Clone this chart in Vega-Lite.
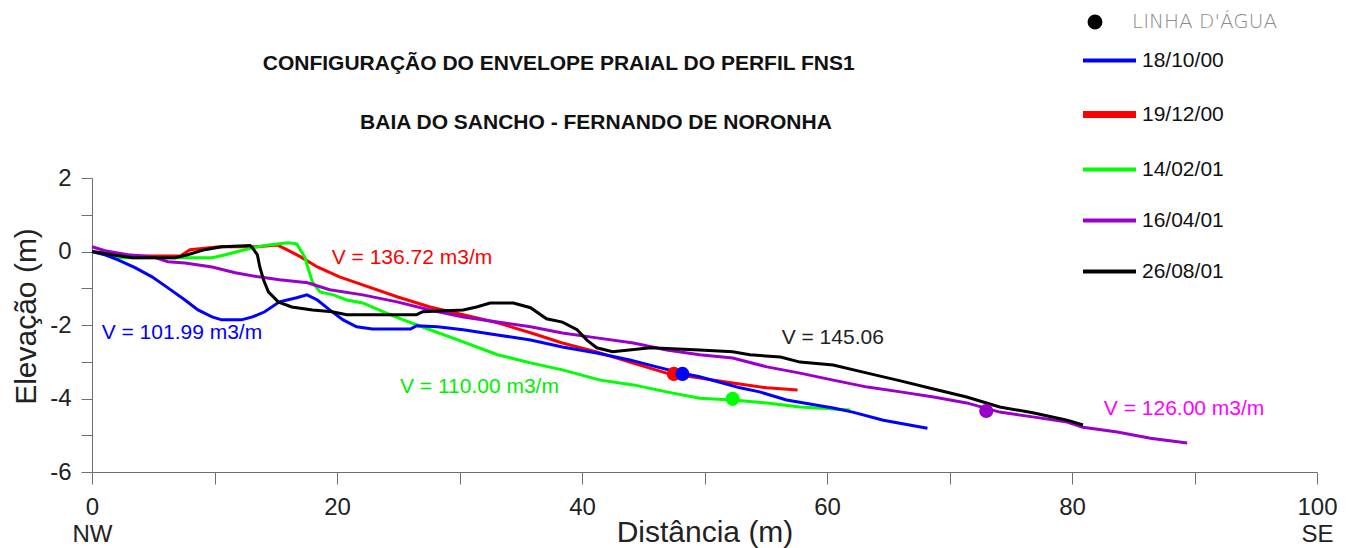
{
  "$schema": "https://vega.github.io/schema/vega-lite/v6.json",
  "width": 1225,
  "height": 294,
  "autosize": {"type": "none"},
  "padding": {"left": 92, "top": 178, "right": 29, "bottom": 76},
  "background": "white",
  "config": {"view": {"stroke": null}, "font": "Liberation Sans", "axis": {"grid": false}},
  "datasets": {
    "perfis": [
      {"serie": "19/12/00", "x": 0, "y": 0},
      {"serie": "19/12/00", "x": 2.1, "y": -0.09},
      {"serie": "19/12/00", "x": 4.1, "y": -0.12},
      {"serie": "19/12/00", "x": 7.2, "y": -0.12},
      {"serie": "19/12/00", "x": 8.0, "y": 0.05},
      {"serie": "19/12/00", "x": 10.4, "y": 0.13},
      {"serie": "19/12/00", "x": 13.5, "y": 0.13},
      {"serie": "19/12/00", "x": 15.1, "y": 0.18},
      {"serie": "19/12/00", "x": 15.9, "y": 0.05},
      {"serie": "19/12/00", "x": 17.0, "y": -0.14},
      {"serie": "19/12/00", "x": 18.4, "y": -0.42},
      {"serie": "19/12/00", "x": 20.2, "y": -0.69},
      {"serie": "19/12/00", "x": 22.1, "y": -0.91},
      {"serie": "19/12/00", "x": 24.9, "y": -1.23},
      {"serie": "19/12/00", "x": 27.6, "y": -1.51},
      {"serie": "19/12/00", "x": 30.3, "y": -1.72},
      {"serie": "19/12/00", "x": 33.1, "y": -1.94},
      {"serie": "19/12/00", "x": 35.8, "y": -2.21},
      {"serie": "19/12/00", "x": 38.4, "y": -2.49},
      {"serie": "19/12/00", "x": 41.2, "y": -2.73},
      {"serie": "19/12/00", "x": 43.9, "y": -3.01},
      {"serie": "19/12/00", "x": 46.9, "y": -3.31},
      {"serie": "19/12/00", "x": 49.6, "y": -3.44},
      {"serie": "19/12/00", "x": 52.3, "y": -3.58},
      {"serie": "19/12/00", "x": 55.1, "y": -3.71},
      {"serie": "19/12/00", "x": 57.6, "y": -3.77},

      {"serie": "14/02/01", "x": 0, "y": 0},
      {"serie": "14/02/01", "x": 1.1, "y": -0.09},
      {"serie": "14/02/01", "x": 2.3, "y": -0.17},
      {"serie": "14/02/01", "x": 9.8, "y": -0.17},
      {"serie": "14/02/01", "x": 10.9, "y": -0.09},
      {"serie": "14/02/01", "x": 11.9, "y": 0},
      {"serie": "14/02/01", "x": 13.1, "y": 0.1},
      {"serie": "14/02/01", "x": 14.4, "y": 0.18},
      {"serie": "14/02/01", "x": 16.0, "y": 0.24},
      {"serie": "14/02/01", "x": 16.7, "y": 0.21},
      {"serie": "14/02/01", "x": 17.0, "y": 0.05},
      {"serie": "14/02/01", "x": 17.4, "y": -0.17},
      {"serie": "14/02/01", "x": 17.6, "y": -0.42},
      {"serie": "14/02/01", "x": 18.0, "y": -0.83},
      {"serie": "14/02/01", "x": 18.6, "y": -1.1},
      {"serie": "14/02/01", "x": 19.7, "y": -1.18},
      {"serie": "14/02/01", "x": 20.8, "y": -1.32},
      {"serie": "14/02/01", "x": 22.1, "y": -1.4},
      {"serie": "14/02/01", "x": 23.8, "y": -1.64},
      {"serie": "14/02/01", "x": 25.4, "y": -1.86},
      {"serie": "14/02/01", "x": 27.6, "y": -2.13},
      {"serie": "14/02/01", "x": 30.3, "y": -2.46},
      {"serie": "14/02/01", "x": 33.1, "y": -2.81},
      {"serie": "14/02/01", "x": 35.8, "y": -3.03},
      {"serie": "14/02/01", "x": 38.4, "y": -3.22},
      {"serie": "14/02/01", "x": 41.5, "y": -3.5},
      {"serie": "14/02/01", "x": 44.2, "y": -3.63},
      {"serie": "14/02/01", "x": 46.9, "y": -3.82},
      {"serie": "14/02/01", "x": 49.6, "y": -3.99},
      {"serie": "14/02/01", "x": 52.3, "y": -4.04},
      {"serie": "14/02/01", "x": 55.1, "y": -4.12},
      {"serie": "14/02/01", "x": 57.8, "y": -4.23},
      {"serie": "14/02/01", "x": 61.9, "y": -4.31},

      {"serie": "18/10/00", "x": 0, "y": 0},
      {"serie": "18/10/00", "x": 1.06, "y": -0.09},
      {"serie": "18/10/00", "x": 2.12, "y": -0.23},
      {"serie": "18/10/00", "x": 3.51, "y": -0.44},
      {"serie": "18/10/00", "x": 4.9, "y": -0.69},
      {"serie": "18/10/00", "x": 6.2, "y": -0.99},
      {"serie": "18/10/00", "x": 7.59, "y": -1.32},
      {"serie": "18/10/00", "x": 8.65, "y": -1.59},
      {"serie": "18/10/00", "x": 9.8, "y": -1.78},
      {"serie": "18/10/00", "x": 10.6, "y": -1.86},
      {"serie": "18/10/00", "x": 12.2, "y": -1.86},
      {"serie": "18/10/00", "x": 13.1, "y": -1.78},
      {"serie": "18/10/00", "x": 14.1, "y": -1.64},
      {"serie": "18/10/00", "x": 15.3, "y": -1.37},
      {"serie": "18/10/00", "x": 16.7, "y": -1.26},
      {"serie": "18/10/00", "x": 17.55, "y": -1.18},
      {"serie": "18/10/00", "x": 18.4, "y": -1.32},
      {"serie": "18/10/00", "x": 19.4, "y": -1.59},
      {"serie": "18/10/00", "x": 20.5, "y": -1.86},
      {"serie": "18/10/00", "x": 21.6, "y": -2.05},
      {"serie": "18/10/00", "x": 22.9, "y": -2.11},
      {"serie": "18/10/00", "x": 26.0, "y": -2.11},
      {"serie": "18/10/00", "x": 26.5, "y": -2.02},
      {"serie": "18/10/00", "x": 28.2, "y": -2.05},
      {"serie": "18/10/00", "x": 30.3, "y": -2.13},
      {"serie": "18/10/00", "x": 33.1, "y": -2.27},
      {"serie": "18/10/00", "x": 35.8, "y": -2.41},
      {"serie": "18/10/00", "x": 38.4, "y": -2.6},
      {"serie": "18/10/00", "x": 41.2, "y": -2.76},
      {"serie": "18/10/00", "x": 43.9, "y": -2.95},
      {"serie": "18/10/00", "x": 46.1, "y": -3.14},
      {"serie": "18/10/00", "x": 48.0, "y": -3.3},
      {"serie": "18/10/00", "x": 49.6, "y": -3.41},
      {"serie": "18/10/00", "x": 52.9, "y": -3.71},
      {"serie": "18/10/00", "x": 54.5, "y": -3.82},
      {"serie": "18/10/00", "x": 56.7, "y": -4.04},
      {"serie": "18/10/00", "x": 60.5, "y": -4.26},
      {"serie": "18/10/00", "x": 62.1, "y": -4.37},
      {"serie": "18/10/00", "x": 64.6, "y": -4.59},
      {"serie": "18/10/00", "x": 68.2, "y": -4.81},

      {"serie": "16/04/01", "x": 0, "y": 0.13},
      {"serie": "16/04/01", "x": 1.06, "y": 0.02},
      {"serie": "16/04/01", "x": 2.9, "y": -0.09},
      {"serie": "16/04/01", "x": 4.9, "y": -0.14},
      {"serie": "16/04/01", "x": 6.2, "y": -0.28},
      {"serie": "16/04/01", "x": 7.6, "y": -0.31},
      {"serie": "16/04/01", "x": 9.8, "y": -0.42},
      {"serie": "16/04/01", "x": 11.7, "y": -0.58},
      {"serie": "16/04/01", "x": 13.6, "y": -0.69},
      {"serie": "16/04/01", "x": 15.3, "y": -0.77},
      {"serie": "16/04/01", "x": 17.6, "y": -0.85},
      {"serie": "16/04/01", "x": 19.4, "y": -1.04},
      {"serie": "16/04/01", "x": 22.1, "y": -1.18},
      {"serie": "16/04/01", "x": 24.9, "y": -1.37},
      {"serie": "16/04/01", "x": 27.6, "y": -1.59},
      {"serie": "16/04/01", "x": 30.3, "y": -1.78},
      {"serie": "16/04/01", "x": 33.1, "y": -1.92},
      {"serie": "16/04/01", "x": 35.8, "y": -2.05},
      {"serie": "16/04/01", "x": 38.4, "y": -2.22},
      {"serie": "16/04/01", "x": 41.2, "y": -2.35},
      {"serie": "16/04/01", "x": 44.2, "y": -2.49},
      {"serie": "16/04/01", "x": 46.9, "y": -2.68},
      {"serie": "16/04/01", "x": 49.6, "y": -2.81},
      {"serie": "16/04/01", "x": 52.3, "y": -2.9},
      {"serie": "16/04/01", "x": 55.1, "y": -3.14},
      {"serie": "16/04/01", "x": 57.8, "y": -3.31},
      {"serie": "16/04/01", "x": 60.5, "y": -3.5},
      {"serie": "16/04/01", "x": 63.3, "y": -3.69},
      {"serie": "16/04/01", "x": 66.0, "y": -3.82},
      {"serie": "16/04/01", "x": 68.7, "y": -3.96},
      {"serie": "16/04/01", "x": 71.4, "y": -4.12},
      {"serie": "16/04/01", "x": 74.1, "y": -4.37},
      {"serie": "16/04/01", "x": 76.8, "y": -4.5},
      {"serie": "16/04/01", "x": 79.6, "y": -4.64},
      {"serie": "16/04/01", "x": 80.9, "y": -4.78},
      {"serie": "16/04/01", "x": 83.7, "y": -4.91},
      {"serie": "16/04/01", "x": 86.4, "y": -5.08},
      {"serie": "16/04/01", "x": 89.4, "y": -5.21},

      {"serie": "26/08/01", "x": 0, "y": 0},
      {"serie": "26/08/01", "x": 1.9, "y": -0.1},
      {"serie": "26/08/01", "x": 3.3, "y": -0.17},
      {"serie": "26/08/01", "x": 6.8, "y": -0.17},
      {"serie": "26/08/01", "x": 7.8, "y": -0.09},
      {"serie": "26/08/01", "x": 9.2, "y": 0.05},
      {"serie": "26/08/01", "x": 10.6, "y": 0.13},
      {"serie": "26/08/01", "x": 12.9, "y": 0.16},
      {"serie": "26/08/01", "x": 13.1, "y": 0.1},
      {"serie": "26/08/01", "x": 13.5, "y": -0.09},
      {"serie": "26/08/01", "x": 13.7, "y": -0.42},
      {"serie": "26/08/01", "x": 14.0, "y": -0.77},
      {"serie": "26/08/01", "x": 14.4, "y": -1.1},
      {"serie": "26/08/01", "x": 15.2, "y": -1.37},
      {"serie": "26/08/01", "x": 16.3, "y": -1.51},
      {"serie": "26/08/01", "x": 18.0, "y": -1.59},
      {"serie": "26/08/01", "x": 19.6, "y": -1.64},
      {"serie": "26/08/01", "x": 20.8, "y": -1.72},
      {"serie": "26/08/01", "x": 26.5, "y": -1.72},
      {"serie": "26/08/01", "x": 27.0, "y": -1.64},
      {"serie": "26/08/01", "x": 30.3, "y": -1.59},
      {"serie": "26/08/01", "x": 31.4, "y": -1.51},
      {"serie": "26/08/01", "x": 32.5, "y": -1.4},
      {"serie": "26/08/01", "x": 34.4, "y": -1.4},
      {"serie": "26/08/01", "x": 35.8, "y": -1.53},
      {"serie": "26/08/01", "x": 37.1, "y": -1.83},
      {"serie": "26/08/01", "x": 38.4, "y": -1.92},
      {"serie": "26/08/01", "x": 39.6, "y": -2.13},
      {"serie": "26/08/01", "x": 40.4, "y": -2.41},
      {"serie": "26/08/01", "x": 41.2, "y": -2.62},
      {"serie": "26/08/01", "x": 42.5, "y": -2.73},
      {"serie": "26/08/01", "x": 45.6, "y": -2.62},
      {"serie": "26/08/01", "x": 49.6, "y": -2.68},
      {"serie": "26/08/01", "x": 52.3, "y": -2.73},
      {"serie": "26/08/01", "x": 53.7, "y": -2.81},
      {"serie": "26/08/01", "x": 56.2, "y": -2.87},
      {"serie": "26/08/01", "x": 57.8, "y": -3.01},
      {"serie": "26/08/01", "x": 60.5, "y": -3.09},
      {"serie": "26/08/01", "x": 63.3, "y": -3.31},
      {"serie": "26/08/01", "x": 66.0, "y": -3.52},
      {"serie": "26/08/01", "x": 68.7, "y": -3.74},
      {"serie": "26/08/01", "x": 71.4, "y": -3.96},
      {"serie": "26/08/01", "x": 74.1, "y": -4.23},
      {"serie": "26/08/01", "x": 76.8, "y": -4.39},
      {"serie": "26/08/01", "x": 79.6, "y": -4.59},
      {"serie": "26/08/01", "x": 80.9, "y": -4.72}
    ],
    "linha_agua": [
      {"serie": "19/12/00", "x": 47.5, "y": -3.33},
      {"serie": "18/10/00", "x": 48.2, "y": -3.33},
      {"serie": "14/02/01", "x": 52.3, "y": -4.01},
      {"serie": "16/04/01", "x": 73.0, "y": -4.34}
    ],
    "volumes": [
      {"t": "V = 101.99 m3/m", "x": 0.79, "y": -2.215},
      {"t": "V = 136.72 m3/m", "x": 19.57, "y": -0.18},
      {"t": "V = 110.00 m3/m", "x": 25.14, "y": -3.68},
      {"t": "V = 145.06", "x": 56.3, "y": -2.36},
      {"t": "V = 126.00 m3/m", "x": 82.6, "y": -4.29}
    ],
    "titulos": [
      {"t": "CONFIGURAÇÃO DO ENVELOPE PRAIAL DO PERFIL FNS1", "x": 38.1, "y": 5.09},
      {"t": "BAIA DO SANCHO - FERNANDO DE NORONHA", "x": 41.14, "y": 3.51}
    ]
  },
  "encoding": {
    "x": {
      "field": "x", "type": "quantitative",
      "scale": {"domain": [0, 100], "nice": false, "zero": false},
      "axis": {
        "title": "Distância (m)",
        "values": [0, 10, 20, 30, 40, 50, 60, 70, 80, 90, 100],
        "labelExpr": "datum.value == 0 ? ['0', 'NW'] : datum.value == 100 ? ['100', 'SE'] : (datum.value % 20 == 0 ? toString(datum.value) : '')",
        "tickSize": 12, "tickColor": "#6e6e6e", "domainColor": "#6e6e6e",
        "labelFontSize": 24, "labelColor": "#222222", "labelPadding": 11,
        "labelLineHeight": 27, "labelOverlap": false, "labelFlush": false, "labelBound": false,
        "titleFontSize": 30, "titleFontWeight": "normal", "titleColor": "#222222",
        "titleY": 69, "titleBaseline": "alphabetic"
      }
    },
    "y": {
      "field": "y", "type": "quantitative",
      "scale": {"domain": [-6, 2], "nice": false, "zero": false},
      "axis": {
        "title": "Elevação (m)",
        "values": [-6, -5, -4, -3, -2, -1, 0, 1, 2],
        "labelExpr": "datum.value % 2 == 0 ? toString(datum.value) : ''",
        "tickSize": 11, "tickColor": "#6e6e6e", "domainColor": "#6e6e6e",
        "labelFontSize": 24, "labelColor": "#222222", "labelPadding": 10,
        "labelOverlap": false, "labelFlush": false,
        "titleFontSize": 30, "titleFontWeight": "normal", "titleColor": "#222222",
        "titleAngle": -90, "titleX": -57, "titleY": 138, "titleBaseline": "alphabetic", "titleAlign": "center"
      }
    }
  },
  "layer": [
    {
      "data": {"name": "perfis"},
      "mark": {"type": "line", "strokeWidth": 3},
      "encoding": {
        "color": {
          "field": "serie", "type": "nominal",
          "scale": {"domain": ["18/10/00", "19/12/00", "14/02/01", "16/04/01", "26/08/01"], "range": ["#0000ff", "#ff0000", "#00ff00", "#9900cc", "#000000"]},
          "legend": {
            "orient": "none", "legendX": 1007, "legendY": -128, "title": null,
            "symbolType": "stroke", "symbolSize": 2809, "symbolStrokeWidth": 4,
            "labelFontSize": 21, "labelColor": "#111111", "labelFont": "Liberation Sans", "labelOffset": 22,
            "rowPadding": 29, "padding": 0,
            "encode": {"symbols": {"update": {"strokeWidth": {"signal": "datum.value === '19/12/00' ? 7 : 4"}}}}
          }
        }
      }
    },
    {
      "data": {"name": "linha_agua"},
      "mark": {"type": "point", "filled": true, "size": 200, "opacity": 1},
      "encoding": {
        "fill": {
          "field": "serie", "type": "nominal",
          "scale": {"domain": ["18/10/00", "19/12/00", "14/02/01", "16/04/01", "26/08/01"], "range": ["#0000ff", "#ff0000", "#00ff00", "#9900cc", "#000000"]},
          "legend": null
        },
        "shape": {
          "datum": "LINHA D'ÁGUA",
          "scale": {"range": ["circle"]},
          "legend": {
            "orient": "none", "legendX": 993, "legendY": -166, "title": null,
            "symbolFillColor": "#000000", "symbolStrokeColor": "#000000", "symbolSize": 180,
            "labelFont": "DejaVu Sans", "labelFontSize": 20, "labelFontWeight": 200, "labelColor": "#8c8c8c",
            "labelOffset": 27, "padding": 0
          }
        }
      }
    },
    {
      "data": {"name": "volumes"},
      "mark": {"type": "text", "align": "left", "baseline": "middle", "fontSize": 21, "font": "Liberation Sans"},
      "encoding": {
        "text": {"field": "t"},
        "color": {
          "field": "t", "type": "nominal",
          "scale": {"domain": ["V = 101.99 m3/m", "V = 136.72 m3/m", "V = 110.00 m3/m", "V = 145.06", "V = 126.00 m3/m"], "range": ["#0000ff", "#ff0000", "#00ee00", "#222222", "#ff00ff"]},
          "legend": null
        }
      }
    },
    {
      "data": {"name": "titulos"},
      "mark": {"type": "text", "align": "center", "baseline": "middle", "fontSize": 21, "fontWeight": "bold", "font": "Liberation Sans", "color": "#111111"},
      "encoding": {"text": {"field": "t"}}
    }
  ],
  "resolve": {"scale": {"color": "independent"}}
}
